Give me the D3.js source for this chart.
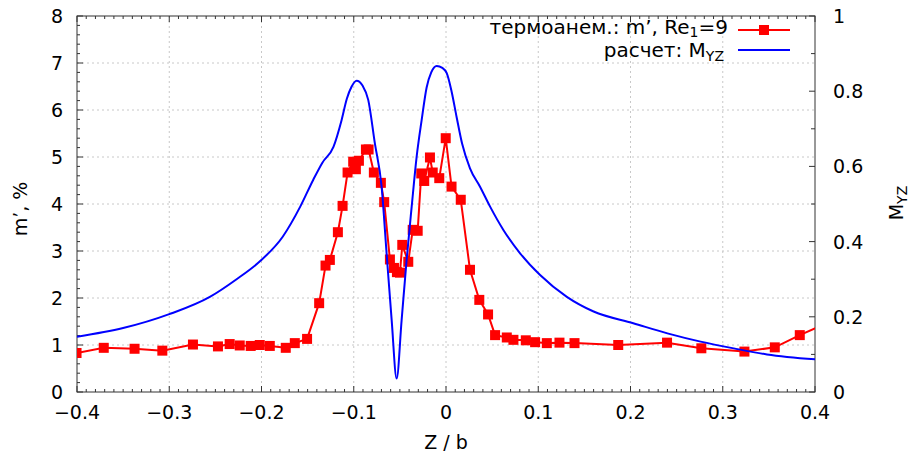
<!DOCTYPE html>
<html><head><meta charset="utf-8">
<script src="https://cdn.jsdelivr.net/npm/d3@7"></script>
<style>body{margin:0;background:#fff}svg{display:block}text{font-family:"DejaVu Sans",sans-serif;fill:#000}</style>
</head><body><svg id="c" width="909" height="452"></svg>
<script>
// Experimental data (thermoanemometer): Z/b and m', %
const expZ = [-0.4005,-0.371,-0.3376,-0.3075,-0.2743,-0.2472,-0.2345,-0.2236,-0.2117,-0.2019,-0.191,-0.1737,-0.1639,-0.1506,-0.1375,-0.1306,-0.1259,-0.1172,-0.1121,-0.1067,-0.1006,-0.0977,-0.0944,-0.0868,-0.0839,-0.0782,-0.0706,-0.067,-0.0608,-0.0564,-0.0532,-0.0499,-0.0474,-0.0409,-0.0361,-0.0307,-0.0268,-0.0236,-0.0174,-0.0144,-0.0073,-0.0003,0.006,0.016,0.026,0.0361,0.0456,0.0532,0.0659,0.0731,0.0865,0.0966,0.1093,0.123,0.1393,0.1867,0.2396,0.2768,0.3235,0.3564,0.3835,0.42];
const expM = [0.83,0.94,0.92,0.88,1.01,0.97,1.02,0.99,0.98,1.00,0.98,0.94,1.04,1.13,1.89,2.69,2.81,3.40,3.96,4.67,4.90,4.74,4.92,5.16,5.16,4.67,4.45,4.04,2.82,2.64,2.55,2.54,3.13,2.77,3.45,3.43,4.65,4.49,4.99,4.67,4.55,5.40,4.37,4.09,2.60,1.96,1.65,1.21,1.16,1.11,1.10,1.06,1.04,1.05,1.04,1.00,1.05,0.93,0.86,0.95,1.21,1.53];
// Calculation: Z/b and M_YZ
const calcZ = [-0.4,-0.35,-0.3,-0.256,-0.227,-0.202,-0.177,-0.158,-0.144,-0.134,-0.122,-0.1132,-0.1075,-0.1024,-0.0969,-0.0905,-0.0843,-0.0771,-0.0698,-0.0644,-0.0589,-0.0535,-0.0481,-0.0427,-0.0372,-0.0318,-0.0264,-0.021,-0.016,-0.0101,-0.004,0.0008,0.006,0.0116,0.0175,0.026,0.0369,0.0478,0.0622,0.0803,0.102,0.131,0.16,0.203,0.24,0.276,0.312,0.348,0.4];
const calcM = [0.147,0.170,0.207,0.253,0.30,0.347,0.413,0.493,0.564,0.61,0.652,0.723,0.78,0.812,0.828,0.815,0.777,0.661,0.546,0.369,0.191,0.036,0.191,0.351,0.493,0.626,0.723,0.81,0.85,0.867,0.862,0.848,0.80,0.73,0.66,0.595,0.546,0.493,0.431,0.369,0.311,0.253,0.214,0.183,0.156,0.134,0.116,0.100,0.087];

const xTicks = [-0.4,-0.3,-0.2,-0.1,0,0.1,0.2,0.3,0.4];
const xTickLabels = ["−0.4","−0.3","−0.2","−0.1","0","0.1","0.2","0.3","0.4"];
const yTicks = [0,1,2,3,4,5,6,7,8];
const y2Ticks = [0,0.2,0.4,0.6,0.8,1];
const y2TickLabels = ["0","0.2","0.4","0.6","0.8","1"];

const L=77, R=815, T=16, B=392;
const svg = d3.select("#c");
const x = d3.scaleLinear().domain([-0.4,0.4]).range([L,R]);
const y = d3.scaleLinear().domain([0,8]).range([B,T]);
const y2 = d3.scaleLinear().domain([0,1]).range([B,T]);

// grid
const g = svg.append("g").attr("stroke","#c8c8c8").attr("stroke-width",1).attr("stroke-dasharray","2,3");
xTicks.slice(1,-1).forEach(v=>g.append("line").attr("x1",x(v)).attr("x2",x(v)).attr("y1",T).attr("y2",B));
yTicks.slice(1,-1).forEach(v=>g.append("line").attr("x1",L).attr("x2",R).attr("y1",y(v)).attr("y2",y(v)));

// axes with inward ticks
const axG = svg.append("g").attr("stroke","#333").attr("stroke-width",1);
const minorX = d3.range(-40,41).map(i=>i/100);
minorX.forEach(v=>{
  const major = Math.abs(Math.round(v*10)-v*10)<1e-6;
  const len = major?6:3;
  axG.append("line").attr("x1",x(v)).attr("x2",x(v)).attr("y1",B).attr("y2",B-len);
  axG.append("line").attr("x1",x(v)).attr("x2",x(v)).attr("y1",T).attr("y2",T+len);
});
d3.range(0,41).map(i=>i/5).forEach(v=>{
  const major = Math.abs(v-Math.round(v))<1e-6;
  axG.append("line").attr("x1",L).attr("x2",L+(major?6:3)).attr("y1",y(v)).attr("y2",y(v));
});
d3.range(0,11).map(i=>i/10).forEach((v,i)=>{
  axG.append("line").attr("x1",R).attr("x2",R-(i%2===0?6:4)).attr("y1",y2(v)).attr("y2",y2(v));
});
svg.append("rect").attr("x",L).attr("y",T).attr("width",R-L).attr("height",B-T)
  .attr("fill","none").attr("stroke","#333").attr("stroke-width",1);

// tick labels
const fs = 19;
xTicks.forEach((v,i)=>svg.append("text").attr("x",x(v)).attr("y",419).attr("text-anchor","middle")
  .attr("font-size",fs).text(xTickLabels[i]));
yTicks.forEach(v=>svg.append("text").attr("x",63).attr("y",y(v)+7).attr("text-anchor","end")
  .attr("font-size",fs).text(v));
y2Ticks.forEach((v,i)=>svg.append("text").attr("x",833).attr("y",y2(v)+7).attr("text-anchor","start")
  .attr("font-size",fs).text(y2TickLabels[i]));

// axis titles
svg.append("text").attr("x",446).attr("y",449).attr("text-anchor","middle").attr("font-size",fs).text("Z / b");
svg.append("text").attr("transform","translate(27,209) rotate(-90)").attr("text-anchor","middle")
  .attr("font-size",fs).text("m’, %");
const t2 = svg.append("text").attr("transform","translate(903,203) rotate(-90)").attr("text-anchor","middle").attr("font-size",fs);
t2.append("tspan").text("M");
t2.append("tspan").attr("font-size",14).attr("dy",4).text("YZ");

// clip
svg.append("clipPath").attr("id","clip").append("rect").attr("x",L).attr("y",T).attr("width",R-L).attr("height",B-T);
const plot = svg.append("g").attr("clip-path","url(#clip)");

const expData = expZ.map((z,i)=>[z,expM[i]]);
const calcData = calcZ.map((z,i)=>[z,calcM[i]]);

plot.append("path").datum(expData).attr("fill","none").attr("stroke","#ff0000").attr("stroke-width",2)
  .attr("d",d3.line().x(d=>x(d[0])).y(d=>y(d[1])));
plot.selectAll("rect.m").data(expData).enter().append("rect").attr("class","m")
  .attr("x",d=>x(d[0])-5).attr("y",d=>y(d[1])-5).attr("width",10).attr("height",10).attr("fill","#ff0000");

plot.append("path").datum(calcData).attr("fill","none").attr("stroke","#0000ff").attr("stroke-width",2)
  .attr("d",d3.line().x(d=>x(d[0])).y(d=>y2(d[1])).curve(d3.curveMonotoneX));

// legend
const lfs = 20;
const lt1 = svg.append("text").attr("x",728).attr("y",34).attr("text-anchor","end").attr("font-size",lfs);
lt1.append("tspan").text("термоанем.: m’, Re");
lt1.append("tspan").attr("font-size",14).attr("dy",3).text("1");
lt1.append("tspan").attr("dy",-3).text("=9");
svg.append("line").attr("x1",738).attr("x2",790).attr("y1",30).attr("y2",30).attr("stroke","#ff0000").attr("stroke-width",2);
svg.append("rect").attr("x",759).attr("y",25).attr("width",10).attr("height",10).attr("fill","#ff0000");
const lt2 = svg.append("text").attr("x",724).attr("y",57).attr("text-anchor","end").attr("font-size",lfs);
lt2.append("tspan").text("расчет: M");
lt2.append("tspan").attr("font-size",14).attr("dy",4).text("YZ");
svg.append("line").attr("x1",738).attr("x2",790).attr("y1",50).attr("y2",50).attr("stroke","#0000ff").attr("stroke-width",2);
</script></body></html>
